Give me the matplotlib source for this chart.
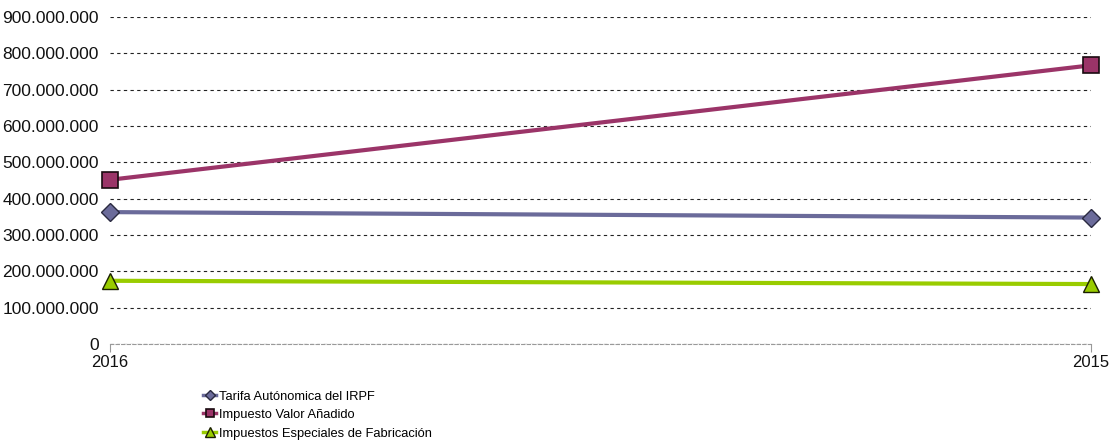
import matplotlib
matplotlib.use("Agg")
import matplotlib.pyplot as plt
from matplotlib.ticker import FuncFormatter

years = ["2016", "2015"]
irpf = [363_000_000, 348_000_000]
iva = [452_000_000, 767_000_000]
ief = [174_000_000, 165_000_000]
labels = ["Tarifa Autónomica del IRPF", "Impuesto Valor Añadido",
          "Impuestos Especiales de Fabricación"]

plt.rcParams['font.family'] = ['Liberation Sans', 'DejaVu Sans']

fig = plt.figure(figsize=(11.1, 4.46), dpi=100)
ax = fig.add_axes([110/1110, 1-344/446, (1091-110)/1110, (344-17)/446])

x = list(range(len(years)))
ax.plot(x, irpf, color='#6B6B9A', lw=3, marker='D', ms=9, mfc='#6B6B9A', mec='#2a2a40', mew=1, label=labels[0], zorder=3, clip_on=False)
ax.plot(x, iva, color='#9B3468', lw=3, marker='s', ms=11, mfc='#9B3468', mec='#1a0a10', mew=1.2, label=labels[1], zorder=3, clip_on=False)
ax.plot(x, ief, color='#99CC00', lw=3, marker='^', ms=12, mfc='#99CC00', mec='#1a2000', mew=1, label=labels[2], zorder=3, clip_on=False)

ax.set_xlim(0, 1)
ax.set_ylim(0, 900_000_000)
ax.set_yticks(range(0, 900_000_001, 100_000_000))
ax.yaxis.set_major_formatter(FuncFormatter(lambda v, p: f"{int(v):,}".replace(",", ".")))
ax.set_xticks(x)
ax.set_xticklabels(years)
ax.grid(axis='y', color='#222222', ls=(0, (3, 3)), lw=0.8)
for s in ['top', 'right', 'left']:
    ax.spines[s].set_visible(False)
ax.spines['bottom'].set_color('#999999')
ax.spines['bottom'].set_linestyle((0, (3, 2)))
ax.tick_params(axis='y', length=0, labelsize=12.5, pad=8, colors='#111111')
ax.tick_params(axis='x', length=6, color='#999999', labelsize=12, pad=2, colors='#111111')

leg = fig.legend(loc='upper left', bbox_to_anchor=(197/1110, 1-384/446), frameon=False,
                 fontsize=9.3, handlelength=1.0, handletextpad=0.2, labelspacing=0.5,
                 borderpad=0, markerscale=0.55)
for h in leg.get_lines():
    h.set_linewidth(2.5)
fig.savefig("out.png", dpi=100)
